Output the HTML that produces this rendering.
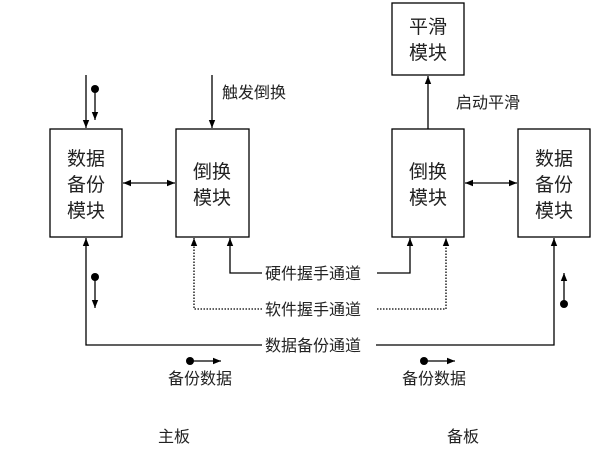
<!DOCTYPE html>
<html><head><meta charset="utf-8"><style>
html,body{margin:0;padding:0;background:#fff}
svg text{font-family:"Liberation Sans","Noto Sans CJK SC","WenQuanYi Zen Hei",sans-serif;fill:#222}
</style></head><body>
<svg width="603" height="456" viewBox="0 0 603 456" xmlns="http://www.w3.org/2000/svg">
<defs>
<marker id="a" viewBox="0 0 10 10" refX="10" refY="5" markerWidth="8" markerHeight="8" orient="auto-start-reverse" markerUnits="userSpaceOnUse"><path d="M0,1 L10,5 L0,9 Z" fill="#000"/></marker>
</defs>
<g stroke="#000" stroke-width="1.3" fill="#fff">
<rect x="50" y="129" width="72" height="108"/>
<rect x="176" y="129" width="73" height="108"/>
<rect x="392" y="129" width="72" height="108"/>
<rect x="518" y="129" width="72" height="108"/>
<rect x="392" y="3" width="72" height="72"/>
</g>
<g stroke="#000" stroke-width="1.3" fill="none">
<line x1="86" y1="75" x2="86" y2="128" marker-end="url(#a)"/>
<line x1="95" y1="89" x2="95" y2="120" marker-end="url(#a)"/>
<line x1="212" y1="75" x2="212" y2="128" marker-end="url(#a)"/>
<line x1="123" y1="183" x2="175" y2="183" marker-start="url(#a)" marker-end="url(#a)"/>
<line x1="465" y1="183" x2="517" y2="183" marker-start="url(#a)" marker-end="url(#a)"/>
<line x1="428" y1="129" x2="428" y2="76" marker-end="url(#a)"/>
<polyline points="262,345 86,345 86,238" marker-end="url(#a)"/>
<polyline points="376,345 554,345 554,238" marker-end="url(#a)"/>
<line x1="95" y1="277" x2="95" y2="308" marker-end="url(#a)"/>
<line x1="564" y1="304" x2="564" y2="273" marker-end="url(#a)"/>
<polyline points="262,273 230,273 230,238" marker-end="url(#a)"/>
<polyline points="377,273 410,273 410,238" marker-end="url(#a)"/>
<polyline points="262,309 194,309 194,238" stroke-dasharray="1.5,1.5" marker-end="url(#a)"/>
<polyline points="377,309 446,309 446,238" stroke-dasharray="1.5,1.5" marker-end="url(#a)"/>
<line x1="190" y1="361" x2="221" y2="361" marker-end="url(#a)"/>
<line x1="424" y1="361" x2="455" y2="361" marker-end="url(#a)"/>
</g>
<g fill="#000">
<circle cx="95" cy="89" r="4"/><circle cx="95" cy="277" r="4"/><circle cx="564" cy="304" r="4"/>
<circle cx="190" cy="361" r="4"/><circle cx="424" cy="361" r="4"/>
</g>
<g font-size="19" text-anchor="middle">
<text x="86" y="165">数据</text><text x="86" y="191">备份</text><text x="86" y="217">模块</text>
<text x="212" y="178">倒换</text><text x="212" y="204">模块</text>
<text x="428" y="178">倒换</text><text x="428" y="204">模块</text>
<text x="554" y="165">数据</text><text x="554" y="191">备份</text><text x="554" y="217">模块</text>
<text x="428" y="33">平滑</text><text x="428" y="59">模块</text>
</g>
<g font-size="16">
<text x="222" y="98">触发倒换</text>
<text x="456" y="108">启动平滑</text>
<text x="265" y="279">硬件握手通道</text>
<text x="265" y="315">软件握手通道</text>
<text x="265" y="351">数据备份通道</text>
<text x="168" y="384">备份数据</text>
<text x="402" y="384">备份数据</text>
<text x="158" y="442">主板</text>
<text x="447" y="442">备板</text>
</g>
</svg>
</body></html>
